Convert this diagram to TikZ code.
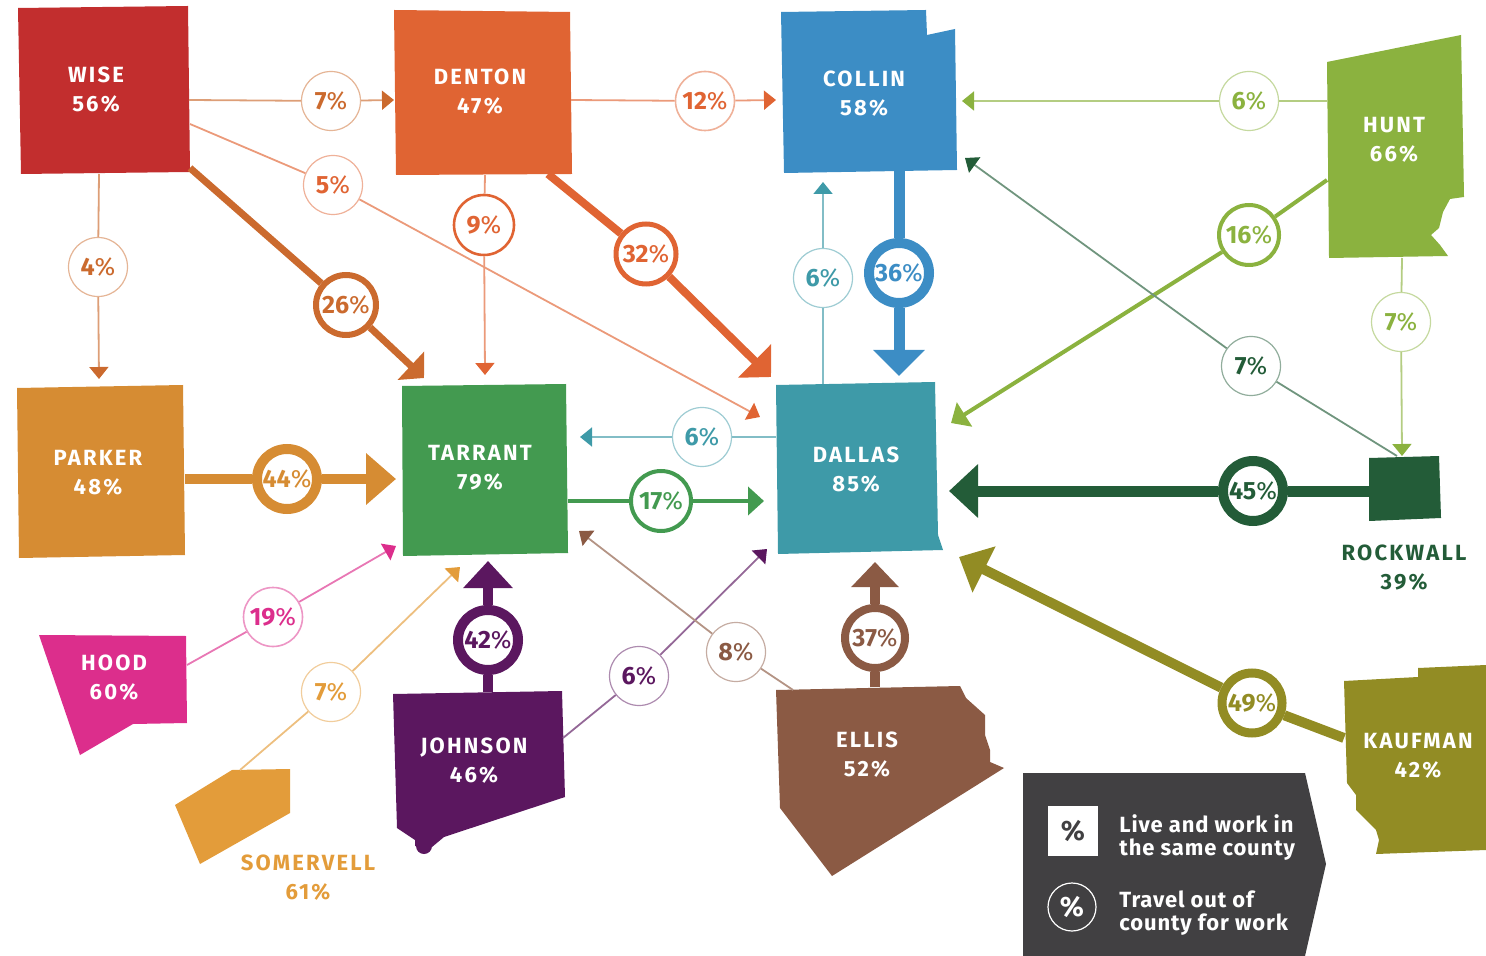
\documentclass[tikz,border=0pt]{standalone}
\usepackage{fontspec}
\setmainfont{Fira Sans}
\newfontfamily\namefont[LetterSpace=10]{Fira Sans}
\newfontfamily\keyfont[LetterSpace=4]{Fira Sans}
\usetikzlibrary{arrows.meta}
\newcommand{\pcsign}{{\mdseries\%}}
\definecolor{wisec}{HTML}{C22E2E}
\definecolor{wisearrow}{HTML}{CB6A2E}
\definecolor{dentonc}{HTML}{E06433}
\definecolor{collinc}{HTML}{3C8DC5}
\definecolor{huntc}{HTML}{8BB23F}
\definecolor{parkerc}{HTML}{D68C33}
\definecolor{tarrantc}{HTML}{439A50}
\definecolor{dallasc}{HTML}{3E9AA8}
\definecolor{rockwallc}{HTML}{235C38}
\definecolor{hoodc}{HTML}{DC2E8C}
\definecolor{somervellc}{HTML}{E39C3A}
\definecolor{johnsonc}{HTML}{5B175F}
\definecolor{ellisc}{HTML}{8B5A44}
\definecolor{kaufmanc}{HTML}{928C24}
\definecolor{legendc}{HTML}{414042}
\tikzset{
    county/.style={text=white, font=\namefont\bfseries\fontsize{11}{14.5}\selectfont, align=center, inner sep=0pt},
    pct/.style={circle, draw=#1!50, fill=white, text=#1, font=\bfseries\fontsize{12.5}{14}\selectfont, minimum size=29.5pt, inner sep=0pt, line width=0.6pt},
    ringpct/.style n args={2}{pct=#1, draw=#1, line width=#2, minimum size=30pt},
    flowline/.style={draw=#1!65, line width=0.9pt},
    flowhead/.style={flowline=#1, -{Triangle[color=#1, length=6pt, width=9.5pt]}},
    heavy/.style n args={4}{draw=#1, line width=#2, -{Triangle[length=#3, width=#4]}},
    plainheavy/.style n args={2}{draw=#1, line width=#2},
    keytext/.style={text=white, font=\keyfont\bfseries\fontsize{11}{11.5}\selectfont, align=left, anchor=west, inner sep=0pt}
}
\begin{document}
\begin{tikzpicture}[x=0.5pt, y=-0.5pt]
            \useasboundingbox (0,0) rectangle (1486,956);
            \fill[wisec] (18,8) -- (188,6) -- (190,172) -- (21,174) -- cycle;
            \fill[dentonc] (394,10) -- (570,12) -- (572,174) -- (396,175) -- cycle;
            \fill[collinc] (781,12) -- (926,10) -- (927,35) -- (955,29) -- (957,170) -- (784,173) -- cycle;
            \fill[huntc] (1327,62) -- (1461,35) -- (1464,197) -- (1450,199) -- (1443,212) -- (1439,228) -- (1431,235) -- (1440,245) -- (1448,256) -- (1329,258) -- cycle;
            \fill[parkerc] (17,388) -- (183,385) -- (185,555) -- (19,558) -- cycle;
            \fill[tarrantc] (402,386) -- (566,384) -- (568,553) -- (403,556) -- cycle;
            \fill[dallasc] (776,385) -- (935,382) -- (938,535) -- (943,550) -- (778,554) -- cycle;
            \fill[rockwallc] (1369,458) -- (1439,456) -- (1441,518) -- (1369,521) -- cycle;
            \fill[hoodc] (39,635) -- (186,636) -- (187,723) -- (133,724) -- (80,755) -- cycle;
            \fill[somervellc] (175,805) -- (232,770) -- (290,769) -- (290,813) -- (200,864) -- cycle;
            \fill[johnsonc] (393,694) -- (562,691) -- (565,797) -- (444,837) -- (432,847) -- (415,846) -- (415,840) -- (397,828) -- cycle;
            \fill[johnsonc] (424,846) circle (4pt);
            \fill[ellisc] (776,690) -- (960,686) -- (966,698) -- (985,715) -- (985,735) -- (990,750) -- (990,762) -- (1004,768) -- (832,876) -- (780,808) -- cycle;
            \fill[kaufmanc] (1344,681) -- (1418,677) -- (1418,668) -- (1486,665) -- (1486,850) -- (1376,854) -- (1379,840) -- (1376,830) -- (1356,810) -- (1356,795) -- (1347,783) -- cycle;
            \fill[legendc] (1023,773) -- (1305,773) -- (1326,864) -- (1305,956) -- (1023,956) -- cycle;

            \node[county] (wise) at (96,90) {WISE\\56\%};
            \node[county] (denton) at (480,92) {DENTON\\47\%};
            \node[county] (collin) at (864,94) {COLLIN\\58\%};
            \node[county] (hunt) at (1394,140) {HUNT\\66\%};
            \node[county] (parker) at (98,473) {PARKER\\48\%};
            \node[county] (tarrant) at (480,468) {TARRANT\\79\%};
            \node[county] (dallas) at (856,470) {DALLAS\\85\%};
            \node[county, text=rockwallc] (rockwall) at (1404,568) {ROCKWALL\\39\%};
            \node[county] (hood) at (114,678) {HOOD\\60\%};
            \node[county, text=somervellc] (somervell) at (308,878) {SOMERVELL\\61\%};
            \node[county] (johnson) at (474,761) {JOHNSON\\46\%};
            \node[county] (ellis) at (867,755) {ELLIS\\52\%};
            \node[county] (kaufman) at (1418,756) {KAUFMAN\\42\%};

            \coordinate (wiseE) at (189,100);
            \coordinate (wiseSE) at (190,124);
            \coordinate (wiseC) at (190,168);
            \coordinate (wiseS) at (99,174);
            \coordinate (dentonE) at (571,100);
            \coordinate (dentonS) at (485,175);
            \coordinate (dentonC) at (548,174);
            \coordinate (collinS) at (899,171);
            \coordinate (huntW) at (1327,101);
            \coordinate (huntSW) at (1327,180);
            \coordinate (huntS) at (1402,258);
            \coordinate (parkerE) at (185,479);
            \coordinate (tarrantE) at (568,501);
            \coordinate (dallasN) at (823,384);
            \coordinate (dallasW) at (776,437);
            \coordinate (rockwallW) at (1369,491);
            \coordinate (rockwallN) at (1397,456);
            \coordinate (hoodE) at (187,665);
            \coordinate (somervellN) at (240,770);
            \coordinate (johnsonN) at (488,692);
            \coordinate (johnsonE) at (563,738);
            \coordinate (ellisN) at (875,687);
            \coordinate (ellisNW) at (793,690);
            \coordinate (kaufmanW) at (1344,738);

            \coordinate (dentonW) at (394,100);
            \coordinate (collinW) at (776,100);
            \coordinate (collinE) at (962,101);
            \coordinate (collinSE) at (965,158);
            \coordinate (collinB) at (823,182);
            \coordinate (parkerN) at (99,379);
            \coordinate (tarrantN) at (485,375);
            \coordinate (tarrantNW) at (424,378);
            \coordinate (tarrantWb) at (396,479);
            \coordinate (tarrantEb) at (580,437);
            \coordinate (tarrantSW) at (396,546);
            \coordinate (tarrantSa) at (460,567);
            \coordinate (tarrantS) at (488,561);
            \coordinate (tarrantSE) at (579,531);
            \coordinate (dallasNW) at (771,377);
            \coordinate (dallasNWb) at (760,417);
            \coordinate (dallasNb) at (899,376);
            \coordinate (dallasNE) at (951,423);
            \coordinate (dallasW2) at (764,501);
            \coordinate (dallasE) at (949,491);
            \coordinate (dallasSW) at (767,549);
            \coordinate (dallasS) at (875,562);
            \coordinate (dallasSE) at (959,557);
            \coordinate (rockwallT) at (1402,456);

            \node[pct=wisearrow] (p1) at (331,101) {7\pcsign};
            \node[pct=dentonc, line width=0.8pt] (p2) at (705,101) {12\pcsign};
            \node[pct=huntc] (p3) at (1249,101) {6\pcsign};
            \node[pct=dentonc] (p4) at (333,185) {5\pcsign};
            \node[pct=wisearrow] (p5) at (98,267) {4\pcsign};
            \node[ringpct={dentonc}{1.3pt}] (p6) at (484,225) {9\pcsign};
            \node[ringpct={wisearrow}{3pt}] (p7) at (346,305) {26\pcsign};
            \node[ringpct={dentonc}{2.5pt}] (p8) at (646,254) {32\pcsign};
            \node[pct=dallasc] (p9) at (823,278) {6\pcsign};
            \node[ringpct={collinc}{5pt}] (p10) at (899,273) {36\pcsign};
            \node[ringpct={huntc}{2pt}] (p11) at (1249,235) {16\pcsign};
            \node[pct=huntc] (p12) at (1401,322) {7\pcsign};
            \node[pct=rockwallc] (p13) at (1251,366) {7\pcsign};
            \node[ringpct={parkerc}{5pt}] (p14) at (287,479) {44\pcsign};
            \node[pct=dallasc] (p15) at (702,437) {6\pcsign};
            \node[ringpct={tarrantc}{2pt}] (p16) at (661,501) {17\pcsign};
            \node[ringpct={rockwallc}{5pt}] (p17) at (1253,491) {45\pcsign};
            \node[pct=hoodc, line width=0.8pt] (p18) at (273,617) {19\pcsign};
            \node[pct=somervellc] (p19) at (331,692) {7\pcsign};
            \node[ringpct={johnsonc}{5pt}] (p20) at (488,640) {42\pcsign};
            \node[pct=johnsonc] (p21) at (639,676) {6\pcsign};
            \node[pct=ellisc] (p22) at (736,652) {8\pcsign};
            \node[ringpct={ellisc}{4pt}] (p23) at (875,638) {37\pcsign};
            \node[ringpct={kaufmanc}{4.5pt}] (p24) at (1252,703) {49\pcsign};

            \draw[flowline=wisearrow] (wiseE) -- (p1);
            \draw[flowhead=wisearrow] (p1) -- (dentonW);
            \draw[flowline=dentonc] (dentonE) -- (p2);
            \draw[flowhead=dentonc] (p2) -- (collinW);
            \draw[flowline=huntc] (huntW) -- (p3);
            \draw[flowhead=huntc] (p3) -- (collinE);
            \draw[flowline=dentonc] (wiseSE) -- (p4);
            \draw[flowhead=dentonc] (p4) -- (dallasNWb);
            \draw[flowline=wisearrow] (wiseS) -- (p5);
            \draw[flowhead=wisearrow] (p5) -- (parkerN);
            \draw[flowline=dentonc] (dentonS) -- (p6);
            \draw[flowhead=dentonc] (p6) -- (tarrantN);
            \draw[plainheavy={wisearrow}{3.5pt}] (wiseC) -- (p7);
            \draw[heavy={wisearrow}{3.5pt}{9pt}{19pt}] (p7) -- (tarrantNW);
            \draw[plainheavy={dentonc}{4pt}] (dentonC) -- (p8);
            \draw[heavy={dentonc}{4pt}{11.5pt}{23pt}] (p8) -- (dallasNW);
            \draw[flowline=dallasc] (dallasN) -- (p9);
            \draw[flowhead=dallasc] (p9) -- (collinB);
            \draw[plainheavy={collinc}{5.5pt}] (collinS) -- (p10);
            \draw[heavy={collinc}{5.5pt}{13pt}{25pt}] (p10) -- (dallasNb);
            \draw[plainheavy={huntc}{2pt}] (huntSW) -- (p11);
            \draw[heavy={huntc}{2pt}{8pt}{14pt}] (p11) -- (dallasNE);
            \draw[flowline=huntc] (huntS) -- (p12);
            \draw[flowhead=huntc] (p12) -- (rockwallT);
            \draw[flowline=rockwallc] (rockwallN) -- (p13);
            \draw[flowhead=rockwallc] (p13) -- (collinSE);
            \draw[plainheavy={parkerc}{5pt}] (parkerE) -- (p14);
            \draw[heavy={parkerc}{5pt}{15pt}{25pt}] (p14) -- (tarrantWb);
            \draw[flowline=dallasc] (dallasW) -- (p15);
            \draw[flowhead=dallasc] (p15) -- (tarrantEb);
            \draw[plainheavy={tarrantc}{2pt}] (tarrantE) -- (p16);
            \draw[heavy={tarrantc}{2pt}{8pt}{14pt}] (p16) -- (dallasW2);
            \draw[plainheavy={rockwallc}{5.5pt}] (rockwallW) -- (p17);
            \draw[heavy={rockwallc}{5.5pt}{14.5pt}{26pt}] (p17) -- (dallasE);
            \draw[flowline=hoodc] (hoodE) -- (p18);
            \draw[flowhead=hoodc] (p18) -- (tarrantSW);
            \draw[flowline=somervellc] (somervellN) -- (p19);
            \draw[flowhead=somervellc] (p19) -- (tarrantSa);
            \draw[plainheavy={johnsonc}{5pt}] (johnsonN) -- (p20);
            \draw[heavy={johnsonc}{5pt}{13.5pt}{24pt}] (p20) -- (tarrantS);
            \draw[flowline=johnsonc] (johnsonE) -- (p21);
            \draw[flowhead=johnsonc] (p21) -- (dallasSW);
            \draw[flowline=ellisc] (ellisNW) -- (p22);
            \draw[flowhead=ellisc] (p22) -- (tarrantSE);
            \draw[plainheavy={ellisc}{5pt}] (ellisN) -- (p23);
            \draw[heavy={ellisc}{5pt}{12.5pt}{23pt}] (p23) -- (dallasS);
            \draw[plainheavy={kaufmanc}{5pt}] (kaufmanW) -- (p24);
            \draw[heavy={kaufmanc}{5pt}{14pt}{25pt}] (p24) -- (dallasSE);

            \node[fill=white, text=legendc, font=\bfseries\fontsize{14}{14}\selectfont, minimum size=25pt, inner sep=0pt] (keysq) at (1073,831) {\%};
            \node[circle, draw=white, line width=0.6pt, text=white, font=\bfseries\fontsize{14}{14}\selectfont, minimum size=24pt, inner sep=0pt] (keycirc) at (1072,907) {\%};
            \node[keytext] (keylive) at (1119,838) {Live and work in\\the same county};
            \node[keytext] (keytravel) at (1119,913) {Travel out of\\county for work};
        \end{tikzpicture}
\end{document}
